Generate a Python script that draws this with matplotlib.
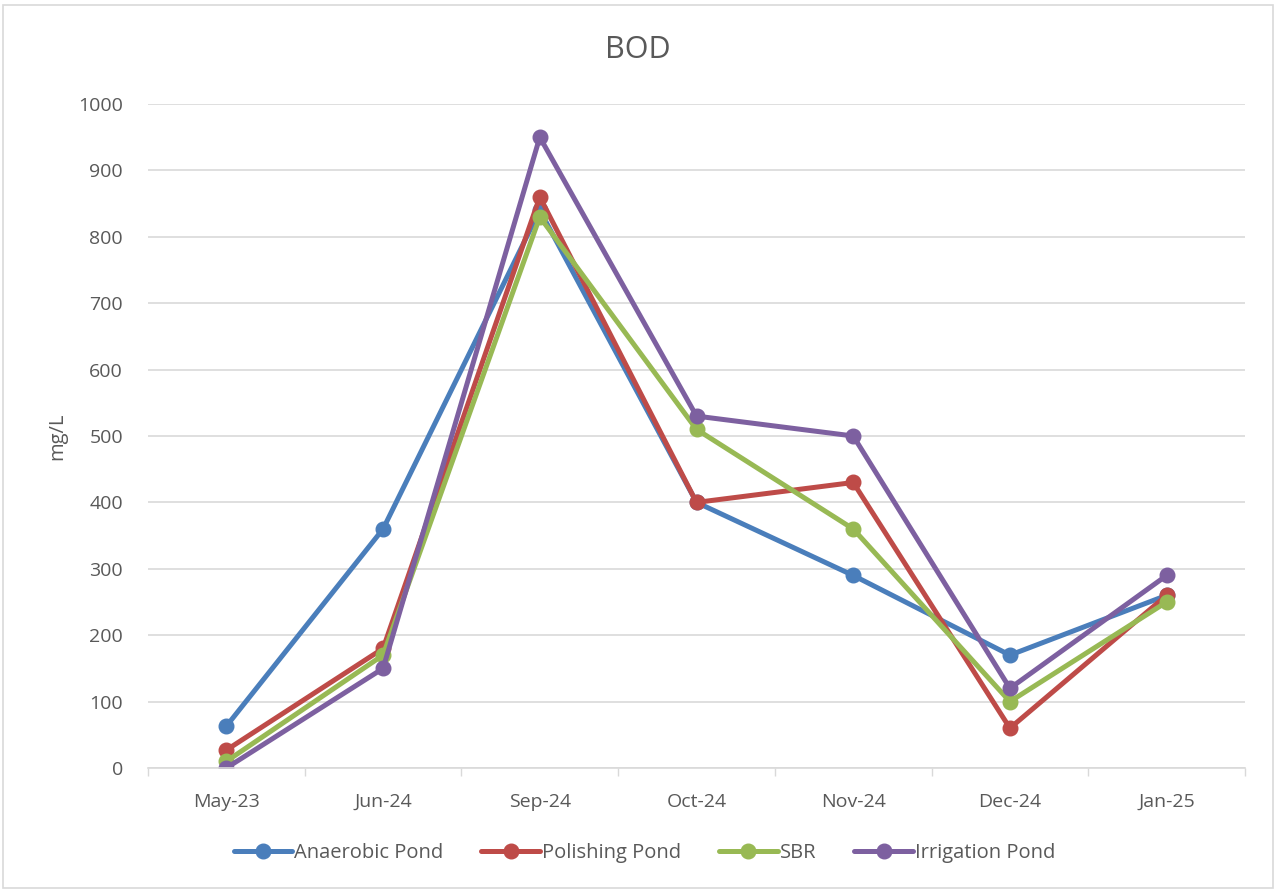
import numpy as np
import matplotlib.pyplot as plt
from matplotlib.ticker import FixedLocator
from matplotlib.patches import Rectangle

# BOD readings (mg/L) per sampling month
months = ["May-23", "Jun-24", "Sep-24", "Oct-24", "Nov-24", "Dec-24", "Jan-25"]
anaerobic = [63, 360, 840, 400, 290, 170, 260]
polishing = [27, 180, 860, 400, 430, 60, 260]
sbr = [10, 170, 830, 510, 360, 100, 250]
irrigation = [0, 150, 950, 530, 500, 120, 290]

series = [
    ("Anaerobic Pond", anaerobic, "#4a7ebb"),
    ("Polishing Pond", polishing, "#be4b48"),
    ("SBR", sbr, "#98b954"),
    ("Irrigation Pond", irrigation, "#7d60a0"),
]

plt.rcParams['font.family'] = ['Open Sans', 'DejaVu Sans']
text_col = "#595959"

fig = plt.figure(figsize=(12.76, 8.9), dpi=100)
ax = fig.add_axes([148 / 1276, 1 - 768 / 890, (1245 - 148) / 1276, (768 - 104) / 890])

x = np.arange(len(months))
for name, vals, col in series:
    ax.plot(x, vals, color=col, lw=3.6, marker='o', ms=10.5, label=name,
            solid_capstyle='round', solid_joinstyle='round')

ax.set_xlim(-0.5, len(months) - 0.5)
ax.set_ylim(0, 1000)
ax.set_yticks(np.arange(0, 1001, 100))
ax.set_xticks(x)
ax.set_xticklabels(months)
ax.xaxis.set_minor_locator(FixedLocator(np.arange(-0.5, len(months), 1.0)))
ax.tick_params(axis='x', which='major', length=0, pad=18, labelsize=14, labelcolor=text_col)
ax.tick_params(axis='x', which='minor', length=6, color="#d9d9d9", width=1)
ax.tick_params(axis='y', length=0, pad=18, labelsize=14, labelcolor=text_col)
ax.grid(axis='y', color="#d9d9d9", lw=1.2)
ax.set_axisbelow(True)
for s in ['top', 'right', 'left']:
    ax.spines[s].set_visible(False)
ax.spines['bottom'].set_color("#d9d9d9")
ax.spines['bottom'].set_linewidth(1.2)

ax.set_ylabel("mg/L", fontsize=14.5, color=text_col, labelpad=8)
fig.text(0.5, 1 - 50 / 890, "BOD", ha='center', va='center', fontsize=22, color=text_col)

leg = fig.legend(loc='center', bbox_to_anchor=(0.505, 1 - 853 / 890), ncol=4, frameon=False,
                 fontsize=14.5, handlelength=2.9, handletextpad=0.1, columnspacing=1.9)
for t in leg.get_texts():
    t.set_color(text_col)

fig.patches.append(Rectangle((0.002, 0.002), 0.996, 0.992, transform=fig.transFigure,
                             fill=False, edgecolor="#d9d9d9", lw=1.2))

fig.savefig("out.png", dpi=100)
